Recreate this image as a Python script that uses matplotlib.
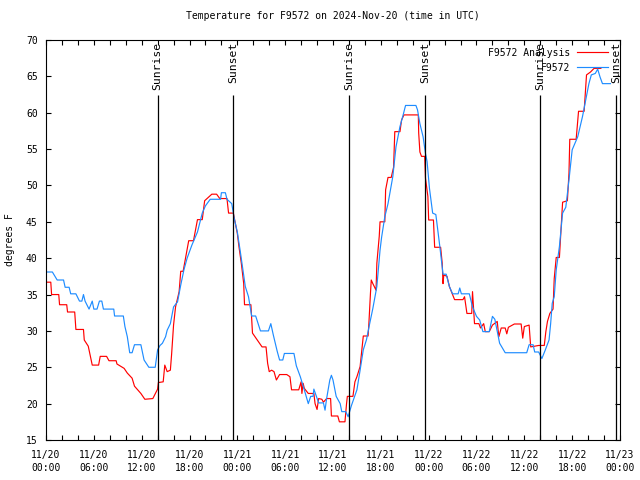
import numpy as np
import matplotlib
matplotlib.use("Agg")
import matplotlib.pyplot as plt

# hours since 11/20 00:00 UTC, degrees F
analysis_h = [0.0, 0.6, 0.7, 1.6, 1.7, 2.6, 2.7, 3.6, 3.75, 4.7, 4.8, 5.3, 5.8, 6.6, 6.8,
              7.6, 7.9, 8.8, 8.9, 9.8, 10.2, 10.8, 11.1, 11.9, 12.4, 13.4, 14.0, 14.1,
              14.7, 14.9, 15.2, 15.6, 15.75, 16.0, 16.25, 16.7, 16.9, 17.2, 17.5, 17.9,
              18.5, 19.0, 19.6, 19.9, 20.8, 21.4, 21.8, 22.7, 22.9, 23.5, 24.0, 24.2,
              24.5, 24.8, 24.9, 25.7, 25.9, 26.5, 27.1, 27.6, 27.8, 28.0, 28.3, 28.6,
              28.9, 29.3, 30.2, 30.6, 30.8, 31.7, 32.0, 32.1, 32.25, 32.4, 32.9, 33.6,
              33.75, 34.0, 34.2, 34.6, 34.8, 35.2, 35.7, 35.8, 36.6, 36.8, 37.5, 37.7,
              37.8, 38.5, 38.75, 39.0, 39.4, 39.7, 39.8, 40.4, 40.5, 40.7, 40.8, 41.0,
              41.4, 41.5, 41.8, 41.9, 42.5, 42.6, 42.9, 43.3, 43.6, 43.75, 44.4, 44.6,
              44.9, 46.7, 46.75, 46.9, 47.1, 47.5, 47.6, 47.9, 48.0, 48.6, 48.75, 49.5,
              49.7, 49.8, 49.9, 50.3, 50.6, 51.25, 52.3, 52.5, 52.8, 53.4, 53.5, 53.75,
              54.3, 54.5, 54.9, 55.1, 55.6, 56.0, 56.6, 56.8, 57.1, 57.6, 57.8, 58.0,
              58.75, 59.6, 59.8, 60.0, 60.6, 60.8, 61.8, 62.5, 62.7, 62.9, 63.2, 63.6,
              63.75, 64.0, 64.4, 64.7, 64.8, 65.4, 65.6, 65.7, 66.5, 66.8, 67.5, 67.8,
              68.3, 68.75, 69.6]
analysis_t = [36.7, 36.7, 35.0, 35.0, 33.6, 33.6, 32.6, 32.6, 30.2, 30.2, 28.75, 27.9, 25.3,
              25.3, 26.5, 26.5, 25.9, 25.9, 25.45, 24.85, 24.2, 23.5, 22.4, 21.4, 20.6,
              20.7, 22.0, 22.9, 23.0, 25.3, 24.4, 24.6, 26.7, 30.8, 33.3, 35.4, 38.2,
              38.2, 40.0, 42.4, 42.4, 45.3, 45.3, 47.9, 48.8, 48.8, 48.2, 48.2, 46.2,
              46.2, 43.4, 41.6, 39.3, 36.5, 33.6, 33.6, 29.7, 28.75, 27.8, 27.8, 25.55,
              24.4, 24.6, 24.4, 23.25, 24.0, 24.0, 23.7, 21.9, 21.9, 23.0, 21.4, 22.8,
              22.1, 21.4, 21.4, 20.0, 19.2, 20.7, 20.6, 20.2, 20.7, 20.7, 18.3, 18.3,
              17.5, 17.5, 20.0, 21.0, 21.0, 23.0, 23.7, 25.1, 28.3, 29.3, 29.3, 31.0,
              35.2, 37.0, 36.5, 35.6, 39.3, 43.0, 45.0, 45.0, 49.4, 51.1, 51.1, 52.5,
              57.4, 57.4, 59.0, 59.7, 59.7, 57.2, 54.6, 54.0, 54.0, 51.0, 48.5, 45.25,
              45.25, 41.5, 41.5, 39.3, 36.5, 37.7, 37.5, 36.1, 34.3, 34.3, 34.7, 32.4,
              32.4, 35.4, 31.0, 31.0, 30.4, 31.0, 29.9, 29.9, 30.8, 31.3, 29.2, 30.4,
              30.4, 29.6, 30.5, 30.95, 30.95, 29.0, 30.6, 30.8, 27.8, 28.0, 28.0, 29.9,
              31.3, 32.4, 33.0, 37.2, 40.1, 40.1, 45.8, 47.7, 47.9, 51.7, 56.35, 56.35,
              60.2, 60.2, 65.2, 65.6, 66.1, 66.1]

station_h = [0.0, 0.8, 1.4, 2.2, 2.4, 2.9, 3.1, 3.75, 4.2, 4.5, 4.7, 4.9, 5.4, 5.8, 6.0,
             6.4, 6.7, 7.0, 7.2, 8.5, 8.6, 9.7, 9.9, 10.2, 10.5, 10.8, 11.1, 11.9, 12.3,
             12.9, 13.7, 14.0, 14.3, 14.6, 15.0, 15.2, 15.6, 16.0, 16.5, 16.9, 17.3,
             17.7, 18.3, 19.0, 19.6, 20.0, 20.6, 21.9, 22.0, 22.5, 22.7, 23.3, 23.6,
             24.0, 24.4, 25.0, 25.4, 25.8, 26.3, 26.9, 27.9, 28.2, 28.5, 29.0, 29.3,
             29.7, 29.9, 31.1, 31.4, 31.9, 32.4, 32.9, 33.2, 33.5, 33.6, 34.2, 34.8,
             35.0, 35.2, 35.6, 35.8, 36.0, 36.4, 36.9, 37.1, 37.6, 37.9, 38.3, 39.0,
             39.4, 39.8, 40.2, 40.6, 41.0, 41.5, 41.9, 42.1, 42.5, 42.9, 43.5, 43.9,
             44.4, 44.8, 45.1, 46.4, 46.6, 46.9, 47.3, 47.6, 47.8, 48.1, 48.5, 48.9,
             49.4, 49.8, 50.2, 50.6, 51.0, 51.7, 51.9, 52.1, 53.1, 53.5, 54.0, 54.4,
             54.8, 55.6, 56.0, 56.3, 56.9, 57.6, 60.3, 60.6, 61.1, 61.3, 61.8, 62.2,
             62.6, 63.1, 63.3, 63.5, 63.75, 64.0, 64.4, 64.8, 65.2, 65.6, 66.0, 66.7,
             67.3, 67.7, 68.1, 68.4, 68.9, 69.2, 69.5, 69.8, 70.8]
station_t = [38.1, 38.1, 37.0, 37.0, 36.0, 36.0, 35.1, 35.1, 34.1, 34.1, 35.0, 34.1, 33.0,
             34.1, 33.0, 33.0, 34.1, 34.1, 33.0, 33.0, 32.05, 32.05, 30.6, 29.2, 27.0,
             27.0, 28.1, 28.1, 26.0, 25.0, 25.0, 27.4, 28.0, 28.3, 29.2, 30.1, 31.0,
             33.3, 34.0, 36.3, 38.4, 40.0, 41.8, 43.6, 46.2, 47.2, 48.1, 48.1, 49.0,
             49.0, 48.1, 47.5, 45.5, 43.6, 40.7, 36.1, 34.7, 32.05, 32.05, 30.0, 30.0,
             31.0, 29.5, 27.2, 26.0, 26.0, 26.9, 26.9, 25.2, 23.7, 21.9, 20.0, 21.0,
             21.0, 22.0, 20.1, 20.1, 19.1, 20.7, 23.25, 23.9, 23.25, 21.0, 20.0, 18.9,
             18.9, 18.2, 19.7, 21.9, 24.6, 27.4, 28.8, 31.0, 33.1, 36.1, 41.1, 42.9,
             45.7, 47.5, 51.2, 55.3, 58.1, 59.7, 61.0, 61.0, 60.4, 58.5, 56.7, 54.4,
             53.3, 49.6, 46.2, 46.0, 41.6, 37.8, 37.8, 36.1, 35.1, 35.1, 35.9, 35.1,
             35.1, 33.3, 32.0, 31.5, 29.9, 29.9, 32.0, 31.6, 28.3, 27.0, 27.0, 28.1,
             28.1, 27.1, 27.1, 26.2, 27.3, 28.75, 31.0, 33.8, 34.7, 38.4, 41.6, 46.2,
             47.0, 50.75, 54.9, 56.7, 59.5, 61.75, 64.0, 65.2, 65.4, 66.0, 64.9, 64.0,
             64.0]

sun_h = [14.0, 23.5, 38.0, 47.6, 62.0, 71.5]
sun_lbl = ["Sunrise", "Sunset", "Sunrise", "Sunset", "Sunrise", "Sunset"]

tick_h = np.arange(0, 73, 6)
tick_lbl = ["11/20\n00:00", "11/20\n06:00", "11/20\n12:00", "11/20\n18:00",
            "11/21\n00:00", "11/21\n06:00", "11/21\n12:00", "11/21\n18:00",
            "11/22\n00:00", "11/22\n06:00", "11/22\n12:00", "11/22\n18:00",
            "11/23\n00:00"]

FONT = "DejaVu Sans Mono"
FS = 7
plt.rcParams['font.family'] = FONT
plt.rcParams['font.size'] = FS

fig = plt.figure(figsize=(6.4, 4.8), dpi=100)
ax = fig.add_axes([46/640, 40/480, 574/640, 400/480])

ax.plot(analysis_h, analysis_t, color="#FF0000", lw=0.85, label="F9572 Analysis")
ax.plot(station_h, station_t, color="#1E8CFF", lw=0.85, label="F9572")

for h, s in zip(sun_h, sun_lbl):
    ax.vlines(h, 15, 62.5, color="black", lw=0.9)
    ax.text(h, 69.7, s, rotation=90, ha="center", va="top", fontsize=8.2)

ax.set_xlim(0, 72)
ax.set_ylim(15, 70)
ax.set_xticks(tick_h)
ax.set_xticklabels(tick_lbl, linespacing=1.45)
ax.set_xticks(np.arange(0, 73, 2), minor=True)
ax.set_yticks(np.arange(15, 71, 5))
ax.tick_params(which="both", direction="in", top=True, right=True,
               length=3.5, width=0.8, labelsize=FS)
ax.tick_params(axis="x", which="major", pad=7)
ax.tick_params(axis="y", which="major", pad=6)
for sp in ax.spines.values():
    sp.set_linewidth(0.8)

ax.set_ylabel("degrees F", fontsize=FS, labelpad=8)
ax.set_title("Temperature for F9572 on 2024-Nov-20 (time in UTC)", fontsize=FS, pad=15)

ax.legend(loc="upper right", bbox_to_anchor=(0.99, 0.995), frameon=False,
          markerfirst=False, handlelength=3.2, handletextpad=0.7,
          labelspacing=0.5, fontsize=FS, borderaxespad=0.2)

fig.savefig("out.png", dpi=100)
